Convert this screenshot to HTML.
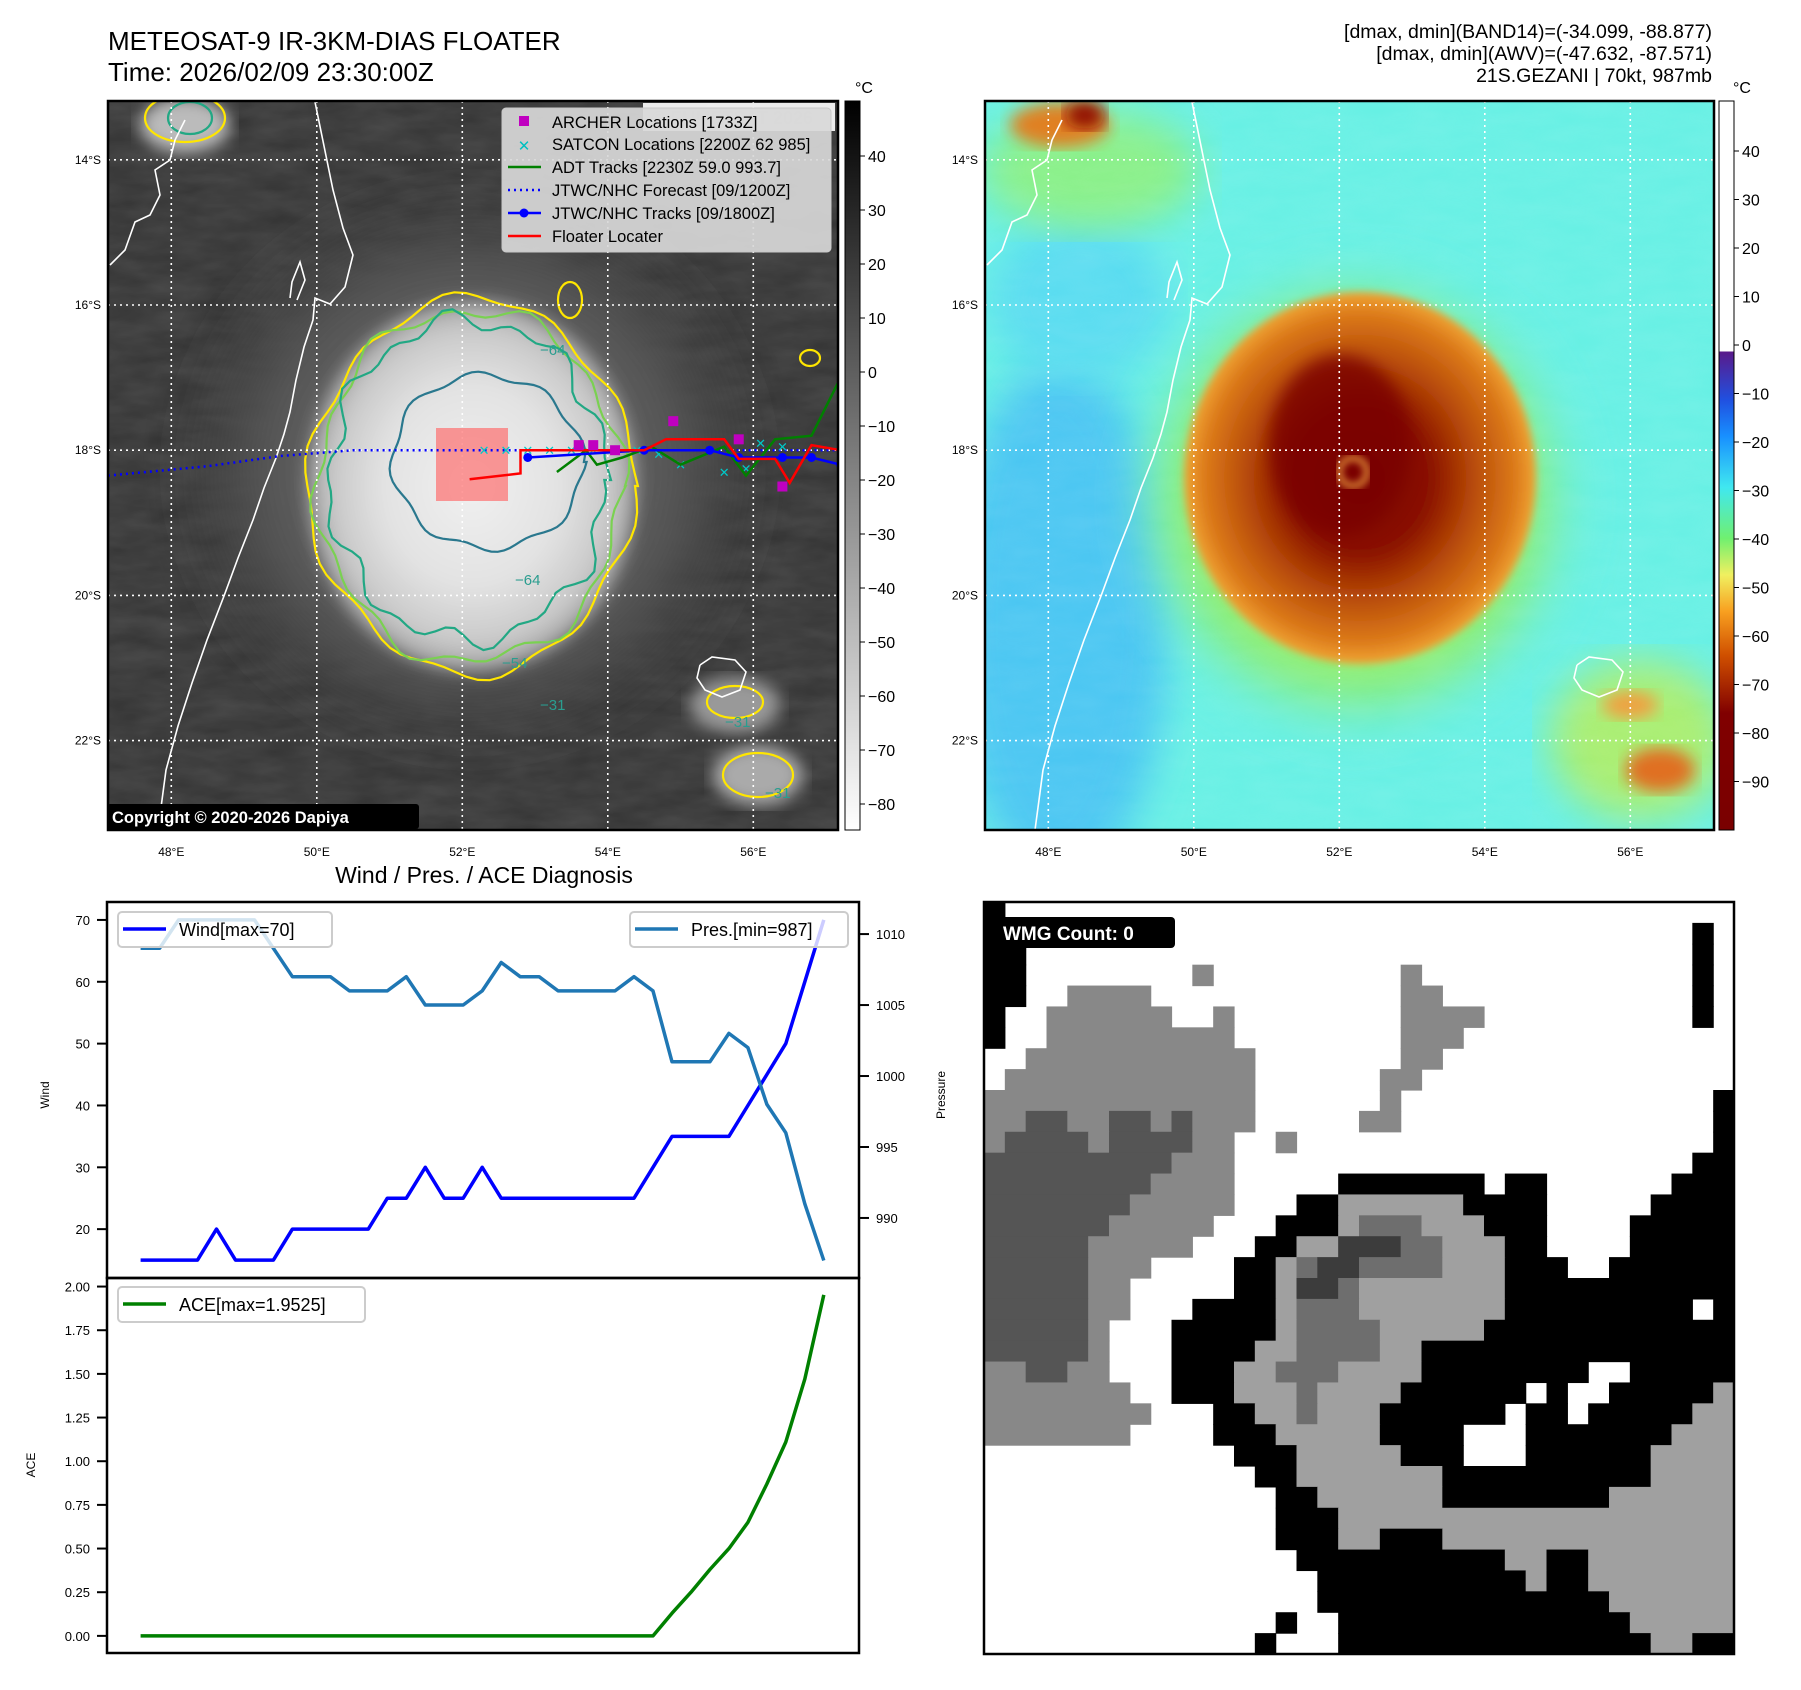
<!DOCTYPE html>
<html><head><meta charset="utf-8">
<style>
html,body{margin:0;padding:0;background:#fff;}
svg{display:block;font-family:"Liberation Sans","DejaVu Sans",sans-serif;}
</style></head>
<body>
<svg id="fig" width="1801" height="1690" viewBox="0 0 1801 1690" xmlns="http://www.w3.org/2000/svg">
<defs>
  <clipPath id="clipL"><rect x="108" y="101" width="730" height="729"/></clipPath>
  <clipPath id="clipR"><rect x="985" y="101" width="729" height="729"/></clipPath>
  <filter id="blur8"><feGaussianBlur stdDeviation="8"/></filter>
  <filter id="blur4"><feGaussianBlur stdDeviation="4"/></filter>
  <filter id="blur20"><feGaussianBlur stdDeviation="20"/></filter>
  <filter id="tex" x="0" y="0" width="100%" height="100%">
    <feTurbulence type="fractalNoise" baseFrequency="0.02 0.06" numOctaves="3" seed="4"/>
    <feColorMatrix type="matrix" values="0 0 0 0 1  0 0 0 0 1  0 0 0 0 1  0 0 0 0.35 0"/>
  </filter>
  <radialGradient id="cloudL" cx="50%" cy="50%" r="50%">
    <stop offset="0" stop-color="#f0f0f0"/>
    <stop offset="0.55" stop-color="#e2e2e2"/>
    <stop offset="0.85" stop-color="#c8c8c8"/>
    <stop offset="1" stop-color="#9a9a9a"/>
  </radialGradient>
  <radialGradient id="haloL" cx="50%" cy="50%" r="50%">
    <stop offset="0" stop-color="#7a7a7a"/>
    <stop offset="0.7" stop-color="#555"/>
    <stop offset="1" stop-color="#3a3a3a" stop-opacity="0"/>
  </radialGradient>
  <radialGradient id="stormR" cx="50%" cy="50%" r="50%">
    <stop offset="0" stop-color="#7a0000"/>
    <stop offset="0.4" stop-color="#8a1200"/>
    <stop offset="0.65" stop-color="#b84c08"/>
    <stop offset="0.88" stop-color="#dc7a1a"/>
    <stop offset="1" stop-color="#f0a535"/>
  </radialGradient>
  <radialGradient id="ringR" cx="50%" cy="50%" r="50%">
    <stop offset="0" stop-color="#c8e860"/>
    <stop offset="0.75" stop-color="#88ee70"/>
    <stop offset="1" stop-color="#70eed0" stop-opacity="0"/>
  </radialGradient>
  <linearGradient id="cbarL" x1="0" y1="0" x2="0" y2="1">
    <stop offset="0" stop-color="#000"/>
    <stop offset="1" stop-color="#fff"/>
  </linearGradient>
  <linearGradient id="cbarR" x1="0" y1="0" x2="0" y2="1">
    <stop offset="0" stop-color="#ffffff"/>
    <stop offset="0.3437" stop-color="#ffffff"/>
    <stop offset="0.3438" stop-color="#5a1a8a"/>
    <stop offset="0.41" stop-color="#2050e0"/>
    <stop offset="0.46" stop-color="#1890ff"/>
    <stop offset="0.53" stop-color="#40e8f0"/>
    <stop offset="0.60" stop-color="#70f070"/>
    <stop offset="0.65" stop-color="#f0f060"/>
    <stop offset="0.70" stop-color="#f8a020"/>
    <stop offset="0.76" stop-color="#d05000"/>
    <stop offset="0.84" stop-color="#800000"/>
    <stop offset="1" stop-color="#7a0000"/>
  </linearGradient>
</defs>

<!-- Titles -->
<text x="108" y="50" font-size="26" fill="#000">METEOSAT-9 IR-3KM-DIAS FLOATER</text>
<text x="108" y="81" font-size="26" fill="#000">Time: 2026/02/09 23:30:00Z</text>
<text x="1712" y="38" font-size="19.5" text-anchor="end">[dmax, dmin](BAND14)=(-34.099, -88.877)</text>
<text x="1712" y="60" font-size="19.5" text-anchor="end">[dmax, dmin](AWV)=(-47.632, -87.571)</text>
<text x="1712" y="82" font-size="19.5" text-anchor="end">21S.GEZANI | 70kt, 987mb</text>

<!-- Left map -->
<g id="mapL" clip-path="url(#clipL)">
  <rect x="108" y="101" width="730" height="729" fill="#333"/>
  <rect x="108" y="101" width="730" height="729" fill="#fff" filter="url(#tex)" opacity="0.35"/>
  <ellipse cx="470" cy="470" rx="300" ry="290" fill="url(#haloL)" filter="url(#blur20)"/>
  <ellipse cx="185" cy="125" rx="45" ry="28" fill="#bbb" filter="url(#blur8)"/>
  <ellipse cx="758" cy="775" rx="45" ry="30" fill="#aaa" filter="url(#blur8)"/>
  <ellipse cx="735" cy="705" rx="45" ry="28" fill="#999" filter="url(#blur8)"/>
  <ellipse cx="472" cy="486" rx="165" ry="186" fill="url(#cloudL)" filter="url(#blur8)"/>
  <g id="contours" fill="none" stroke-width="2.2"></g>
  <g id="coastL" fill="none" stroke="#fff" stroke-width="1.6"></g>
  <g id="gridL" stroke="#fff" stroke-width="1.6" stroke-dasharray="2,4"></g>
  <g id="tracks"></g>
  <rect x="643" y="103" width="192" height="28" fill="#fff" opacity="0.9"/>
  <text x="652" y="124" font-size="18" font-weight="bold" fill="#ddd">© EUMETSAT 2026</text>
  <rect x="107" y="804" width="312" height="25" fill="#000" rx="3"/>
  <text x="112" y="823" font-size="16.5" font-weight="bold" fill="#fff">Copyright © 2020-2026 Dapiya</text>
</g>
<rect x="108" y="101" width="730" height="729" fill="none" stroke="#000" stroke-width="2.5"/>

<!-- Legend -->
<g>
  <rect x="502" y="108" width="329" height="144" rx="4" fill="#d8d8d8" fill-opacity="0.92" stroke="#c8c8c8"/>
  <rect x="519" y="116" width="10" height="10" fill="#c000c0"/>
  <text x="552" y="128" font-size="16.5">ARCHER Locations [1733Z]</text>
  <text x="524" y="151" font-size="15" font-weight="bold" fill="#00c0c0" text-anchor="middle">✕</text>
  <text x="552" y="150" font-size="16.5">SATCON Locations [2200Z 62 985]</text>
  <line x1="508" y1="167" x2="541" y2="167" stroke="#008000" stroke-width="2.5"/>
  <text x="552" y="173" font-size="16.5">ADT Tracks [2230Z 59.0 993.7]</text>
  <line x1="508" y1="190" x2="541" y2="190" stroke="#0000ff" stroke-width="2.5" stroke-dasharray="2,4"/>
  <text x="552" y="196" font-size="16.5">JTWC/NHC Forecast [09/1200Z]</text>
  <line x1="508" y1="213" x2="541" y2="213" stroke="#0000ff" stroke-width="2.5"/>
  <circle cx="524" cy="213" r="4.5" fill="#0000ff"/>
  <text x="552" y="219" font-size="16.5">JTWC/NHC Tracks [09/1800Z]</text>
  <line x1="508" y1="236" x2="541" y2="236" stroke="#ff0000" stroke-width="2.5"/>
  <text x="552" y="242" font-size="16.5">Floater Locater</text>
</g>

<!-- Left colorbar -->
<rect x="845" y="101" width="15" height="729" fill="url(#cbarL)" stroke="#000" stroke-width="1"/>
<text x="855" y="93" font-size="16">°C</text>
<g id="cbarLticks"></g>

<!-- Right map -->
<g id="mapR" clip-path="url(#clipR)">
  <rect x="985" y="101" width="729" height="729" fill="#66f0e4"/>
  <ellipse cx="1060" cy="620" rx="110" ry="260" fill="#48c6f2" filter="url(#blur20)"/>
  <ellipse cx="1080" cy="300" rx="90" ry="80" fill="#58dcf0" filter="url(#blur20)"/>
  <ellipse cx="1090" cy="170" rx="110" ry="60" fill="#88f088" filter="url(#blur20)"/>
  <ellipse cx="1355" cy="500" rx="235" ry="245" fill="url(#ringR)" filter="url(#blur20)"/>
  <ellipse cx="1640" cy="740" rx="90" ry="80" fill="#a8ee70" filter="url(#blur20)"/>
  <rect x="985" y="101" width="729" height="729" fill="#fff" filter="url(#tex)" opacity="0.25"/>
  <ellipse cx="1060" cy="125" rx="50" ry="22" fill="#e08020" filter="url(#blur8)"/>
  <ellipse cx="1085" cy="115" rx="20" ry="14" fill="#900800" filter="url(#blur8)"/>
  <ellipse cx="1660" cy="770" rx="35" ry="22" fill="#e07020" filter="url(#blur8)"/>
  <ellipse cx="1630" cy="705" rx="28" ry="14" fill="#f0a040" filter="url(#blur8)"/>
  <ellipse cx="1360" cy="478" rx="176" ry="186" fill="url(#stormR)" filter="url(#blur4)"/>
  <ellipse cx="1340" cy="445" rx="70" ry="90" fill="#7a0000" filter="url(#blur8)" opacity="0.8"/>
  <circle cx="1353" cy="472" r="14" fill="none" stroke="#f0a040" stroke-width="5" filter="url(#blur4)"/>
  <g id="coastR" fill="none" stroke="#fff" stroke-width="1.6"></g>
  <g id="gridR" stroke="#fff" stroke-width="1.6" stroke-dasharray="2,4"></g>
</g>
<rect x="985" y="101" width="729" height="729" fill="none" stroke="#000" stroke-width="2.5"/>
<rect x="1719" y="101" width="15" height="729" fill="url(#cbarR)" stroke="#000" stroke-width="1"/>
<text x="1733" y="93" font-size="16">°C</text>
<g id="cbarRticks"></g>
<g id="mapTicks"></g>

<!-- Diagnosis chart -->
<text x="484" y="883" font-size="23" text-anchor="middle">Wind / Pres. / ACE Diagnosis</text>
<g id="diag"></g>
<rect x="107" y="902" width="752" height="376" fill="none" stroke="#000" stroke-width="2.5"/>
<rect x="107" y="1278" width="752" height="375" fill="none" stroke="#000" stroke-width="2.5"/>
<text transform="translate(49,1095) rotate(-90)" font-size="12" text-anchor="middle">Wind</text>
<text transform="translate(945,1095) rotate(-90)" font-size="12" text-anchor="middle">Pressure</text>
<text transform="translate(35,1465) rotate(-90)" font-size="12" text-anchor="middle">ACE</text>

<!-- WMG -->
<g id="wmg"></g>
<rect x="984" y="902" width="750" height="752" fill="none" stroke="#000" stroke-width="2.5"/>
<rect x="995" y="917" width="180" height="31" rx="4" fill="#000"/>
<text x="1003" y="940" font-size="19" font-weight="bold" fill="#fff">WMG Count: 0</text>

<script>
// ---------- Chart data ----------
const windVals = [15,15,15,15,20,15,15,15,20,20,20,20,20,25,25,30,25,25,30,25,25,25,25,25,25,25,25,30,35,35,35,35,40,45,50,60,70];
const presVals = [1009,1009,1011,1011,1011,1011,1011,1009,1007,1007,1007,1006,1006,1006,1007,1005,1005,1005,1006,1008,1007,1007,1006,1006,1006,1006,1007,1006,1001,1001,1001,1003,1002,998,996,991,987];
const aceVals = [0,0,0,0,0,0,0,0,0,0,0,0,0,0,0,0,0,0,0,0,0,0,0,0,0,0,0,0,0.13,0.25,0.38,0.5,0.65,0.87,1.11,1.47,1.9525];
const windTicks = [20,30,40,50,60,70];
const presTicks = [990,995,1000,1005,1010];
const aceTicks = [0,0.25,0.5,0.75,1,1.25,1.5,1.75,2];
const lonTicks = [48,50,52,54,56];
const latTicks = [14,16,18,20,22];
const irCbarTicks = [40,30,20,10,0,-10,-20,-30,-40,-50,-60,-70,-80];
const awvCbarTicks = [40,30,20,10,0,-10,-20,-30,-40,-50,-60,-70,-80,-90];

// track data (lon, lat)
const forecastLon = [47.13,48.5,49.5,50.5,51.5,52.5,53.5,54.5,55.5,56.5,57.2];
const forecastLat = [18.35,18.22,18.08,18.0,18.0,18.0,18.0,18.0,18.0,18.0,18.0];
const floaterLon = [52.1,52.8,52.8,54.5,54.8,55.6,55.8,56.3,56.5,56.8,57.2];
const floaterLat = [18.4,18.32,18.0,18.0,17.85,17.85,18.12,18.12,18.45,17.93,18.0];
const jtwcLon = [52.9,54.5,55.4,55.8,56.4,56.8,57.2];
const jtwcLat = [18.1,18.0,18.0,18.1,18.1,18.1,18.2];
const adtLon = [53.3,53.7,53.85,54.2,54.6,55.0,55.6,55.9,56.3,56.8,57.2];
const adtLat = [18.3,18.0,18.2,18.1,17.95,18.2,17.95,18.35,17.85,17.8,17.0];
const archerLon = [53.6,53.8,54.1,54.9,55.8,56.4];
const archerLat = [17.93,17.93,18.0,17.6,17.85,18.5];
const satconLon = [52.3,52.6,52.9,53.2,53.5,53.8,54.1,54.4,54.7,55.0,55.6,55.9,56.1,56.4];
const satconLat = [18.0,18.0,18.0,18.0,18.0,18.0,18.0,18.0,18.05,18.2,18.3,18.25,17.9,17.95];

// WMG rows (run-length)
const wmgRows = [
"K1W35","K2W32K1W1","K2W32K1W1","K2W8G1W9G1W13K1W1","K2W2G4W12G2W12K1W1",
"K1W2G6W2G1W8G4W10K1W1","K1W2G9W8G3W13","W2G11W7G2W14","W1G12W6G2W15","G13W6G1W15K1",
"G2D2G2D2G1D1G3W5G2W15K1","G1D4G1D4G2W2G1W20K1","D9G3W22K2","D8G4W5K7W1K2W6K3",
"D7G5W3K2L6K4W5K4","D6G5W3K3L1M3L3K3W4K5","D5G5W3K2L2X3M2L3K2W4K5",
"D5G3W4K2L1M1X2M4L3K3W2K6","D5G2W5K2L1X2M1L7K11","D5G2W3K4L1M3L7K9W1K1",
"D5G1W3K5L1M4L5K12","D5G1W3K4L2M4L2K15","G2D2G2W3K3L2M3L4K8W2K5",
"G7W2K3L3M1L4K6W1K1W2K5L1","G8W3K2L2M1L3K6W1K2W1K5L2","G7W4K3L5K4W3K7L3",
"W12K3L5K3W3K6L4","W13K2L7K10L4","W14K2L6K8L6","W14K3L19","W14K3L2K3L14",
"W15K10L2K2L7","W16K10L1K2L7","W16K14L6","W14K1W2K14L5","W13K1W3K15L2K2"];
const wmgColors = {W:"#ffffff",K:"#000000",G:"#888888",D:"#555555",L:"#a0a0a0",M:"#6e6e6e",X:"#3c3c3c"};

const NS="http://www.w3.org/2000/svg";
function mk(tag, attrs, parent){const e=document.createElementNS(NS,tag);for(const k in attrs)e.setAttribute(k,attrs[k]);parent.appendChild(e);return e;}

// ---------- Map geometry ----------
function lonX(lon){return 108+(lon-47.13)*72.75;}
function latY(lat){return 101+(lat-13.19)*72.6;}

["gridL","gridR"].forEach((gid,k)=>{
  const g=document.getElementById(gid); const off=k*877;
  lonTicks.forEach(lo=>{
    const l=mk("line",{x1:lonX(lo)+off,x2:lonX(lo)+off,y1:101,y2:830},g);
    
    
  });
  latTicks.forEach(la=>{
    const l=mk("line",{x1:108+off,x2:838+off,y1:latY(la),y2:latY(la)},g);
    
    
  });
});
const mt=document.getElementById("mapTicks");
[0,877].forEach(off=>{
  lonTicks.forEach(lo=>{
    const t=mk("text",{x:lonX(lo)+off,y:856,"font-size":12,"text-anchor":"middle"},mt);
    t.textContent=lo+"°E";
    
    
  });
  latTicks.forEach(la=>{
    const t=mk("text",{x:101+off,y:latY(la)+4,"font-size":12,"text-anchor":"end"},mt);
    t.textContent=la+"°S";
    
    
  });
});

const coastPts=[[315,102],[324,146],[333,190],[343,228],[353,255],[345,287],[330,304],[315,298],[313,320],[304,347],[296,380],[290,412],[284,434],[276,458],[264,488],[253,520],[238,558],[224,596],[207,640],[192,683],[178,726],[166,770],[158,830]];
const coastNW=[[110,265],[125,250],[135,222],[150,215],[160,195],[155,170],[170,160],[175,140],[185,120]];
const island=[[297,300],[305,280],[300,262],[292,282],[290,298]];
const reunion=[[700,665],[712,657],[735,660],[746,672],[740,690],[722,697],[705,690],[697,678],[700,665]];
function poly(pts,off){return pts.map((p,i)=>(i?"L":"M")+(p[0]+off)+","+p[1]).join(" ");}
["coastL","coastR"].forEach((gid,k)=>{
  const g=document.getElementById(gid), off=k*877;
  [coastPts,coastNW,island,reunion].forEach(pts=>{
    const p=mk("path",{d:poly(pts,off)},g);
    
    
  });
});

const cg=document.getElementById("contours");
function blob(cx,cy,rx,ry,amp,seed,n){
  let d="";for(let i=0;i<=n;i++){const a=i/n*2*Math.PI;const r=1+amp*Math.sin(a*seed+seed)*Math.cos(a*3.1+seed*0.7);
  const x=cx+rx*r*Math.cos(a), y=cy+ry*r*Math.sin(a); d+=(i?"L":"M")+x.toFixed(1)+","+y.toFixed(1);} return d+"Z";}
[[472,486,162,186,0.05,7,"#ffe600"],[470,486,152,176,0.06,9,"#7ad151"],[468,480,138,160,0.08,11,"#22a884"],[488,462,92,90,0.08,5,"#2a788e"]].forEach(c=>{
  const p=mk("path",{d:blob(c[0],c[1],c[2],c[3],c[4],c[5],90),stroke:c[6]},cg);
  
  
});
[[735,702,28,16,"#ffe600"],[758,775,35,22,"#ffe600"],[185,118,40,24,"#ffe600"],[190,118,22,16,"#22a884"],[570,300,12,18,"#ffe600"],[810,358,10,8,"#ffe600"]].forEach(c=>{
  const p=mk("ellipse",{cx:c[0],cy:c[1],rx:c[2],ry:c[3],stroke:c[4]},cg);
  
  
});
[["−31",540,710],["−54",502,668],["−64",515,585],["−64",540,355],["−31",725,727],["−31",765,798]].forEach(t=>{
  const e=mk("text",{x:t[1],y:t[2],"font-size":15,fill:"#2a9d8f",stroke:"none"},cg);
  e.textContent=t[0];
  
  
});

const tg=document.getElementById("tracks");
const box=mk("rect",{x:436,y:428,width:72,height:73,fill:"#ff6666","fill-opacity":0.65},tg);


function trackPath(lons,lats){return lons.map((lo,i)=>(i?"L":"M")+lonX(lo).toFixed(1)+","+latY(lats[i]).toFixed(1)).join(" ");}
const fc=mk("path",{d:trackPath(forecastLon,forecastLat),stroke:"#0000ff","stroke-width":2.5,"stroke-dasharray":"2,4",fill:"none"},tg);


satconLon.forEach((lo,i)=>{
  const t=mk("text",{x:lonX(lo),y:latY(satconLat[i])+5,"font-size":13,"font-weight":"bold",fill:"#00c8c8","text-anchor":"middle"},tg);
  t.textContent="✕";
  
  
});
const adt=mk("path",{d:trackPath(adtLon,adtLat),stroke:"#008000","stroke-width":2.5,fill:"none"},tg);


const jt=mk("path",{d:trackPath(jtwcLon,jtwcLat),stroke:"#0000ff","stroke-width":2.5,fill:"none"},tg);


jtwcLon.forEach((lo,i)=>{
  const c=mk("circle",{cx:lonX(lo),cy:latY(jtwcLat[i]),r:4.5,fill:"#0000ff"},tg);
  
  
});
const fl=mk("path",{d:trackPath(floaterLon,floaterLat),stroke:"#ff0000","stroke-width":2.5,fill:"none"},tg);


archerLon.forEach((lo,i)=>{
  const r=mk("rect",{x:lonX(lo)-5,y:latY(archerLat[i])-5,width:10,height:10,fill:"#c000c0"},tg);
  
  
});

function cbar(gid,x,y0,scale,ticks,name){
  const g=document.getElementById(gid);
  ticks.forEach(v=>{
    const y=y0-v*scale;
    mk("line",{x1:x,x2:x+5,y1:y,y2:y,stroke:"#000","stroke-width":1},g);
    const t=mk("text",{x:x+8,y:y+6,"font-size":16},g);
    t.textContent=(v<0?"−"+(-v):""+v);
    
    
  });
}
cbar("cbarLticks",860,372,5.4,irCbarTicks,"ir-colorbar-tick");
cbar("cbarRticks",1734,345,4.85,awvCbarTicks,"awv-colorbar-tick");

// ---------- Diagnosis chart ----------
const dg=document.getElementById("diag");
const N=windVals.length;
function xi(i){return 140.6+i*(823.8-140.6)/(N-1);}
function yWind(v){return 902+(72.9-v)/(72.9-12.1)*376;}
function yPres(v){return 902+(1012.26-v)/(1012.26-985.77)*376;}
function yAce(v){return 1278+(2.049-v)/(2.049+0.098)*375;}
function ticks(vals,yf,x,side,fmt,name){
  vals.forEach(v=>{
    const y=yf(v);
    mk("line",{x1:side<0?x-10:x,x2:side<0?x:x+10,y1:y,y2:y,stroke:"#000","stroke-width":2},dg);
    const t=mk("text",{x:side<0?x-17:x+17,y:y+5,"font-size":13,"text-anchor":side<0?"end":"start"},dg);
    t.textContent=fmt(v);
    
    
  });
}
ticks(windTicks,yWind,107,-1,v=>""+v,"wind-tick-label");
ticks(presTicks,yPres,859,1,v=>""+v,"pressure-tick-label");
ticks(aceTicks,yAce,107,-1,v=>v.toFixed(2),"ace-tick-label");
function series(vals,yf,color,name){
  const d=vals.map((v,i)=>(i?"L":"M")+xi(i).toFixed(1)+","+yf(v).toFixed(1)).join(" ");
  const p=mk("path",{d:d,stroke:color,"stroke-width":3.5,fill:"none","stroke-linejoin":"round"},dg);
  
  
}
series(windVals,yWind,"#0000ff","wind-line");
series(presVals,yPres,"#1f77b4","pressure-line");
series(aceVals,yAce,"#008000","ace-line");
function legend(x,y,w,color,label,name){
  const g=mk("g",{},dg);
  
  
  mk("rect",{x:x,y:y,width:w,height:35,rx:4,fill:"#fff","fill-opacity":0.8,stroke:"#ccc","stroke-width":2},g);
  mk("line",{x1:x+5,x2:x+48,y1:y+17,y2:y+17,stroke:color,"stroke-width":3.5},g);
  const t=mk("text",{x:x+61,y:y+24,"font-size":18},g);
  t.textContent=label;
}
legend(118,912,214,"#0000ff","Wind[max="+Math.max(...windVals)+"]","wind-legend");
legend(630,912,218,"#1f77b4","Pres.[min="+Math.min(...presVals)+"]","pressure-legend");
legend(118,1287,247,"#008000","ACE[max="+Math.max(...aceVals)+"]","ace-legend");

// ---------- WMG ----------
const wg=document.getElementById("wmg");
const cw=750/36, ch=752/36;
wmgRows.forEach((row,r)=>{
  const runs=row.match(/[A-Z]\d+/g); let c=0;
  runs.forEach(run=>{
    const k=run[0], n=parseInt(run.slice(1));
    if(k!=="W"){
      const rc=mk("rect",{x:(984+c*cw).toFixed(2),y:(902+r*ch).toFixed(2),width:(n*cw+0.6).toFixed(2),height:(ch+0.6).toFixed(2),fill:wmgColors[k]},wg);
      
      
    }
    c+=n;
  });
});
</script>
</svg>
</body></html>
